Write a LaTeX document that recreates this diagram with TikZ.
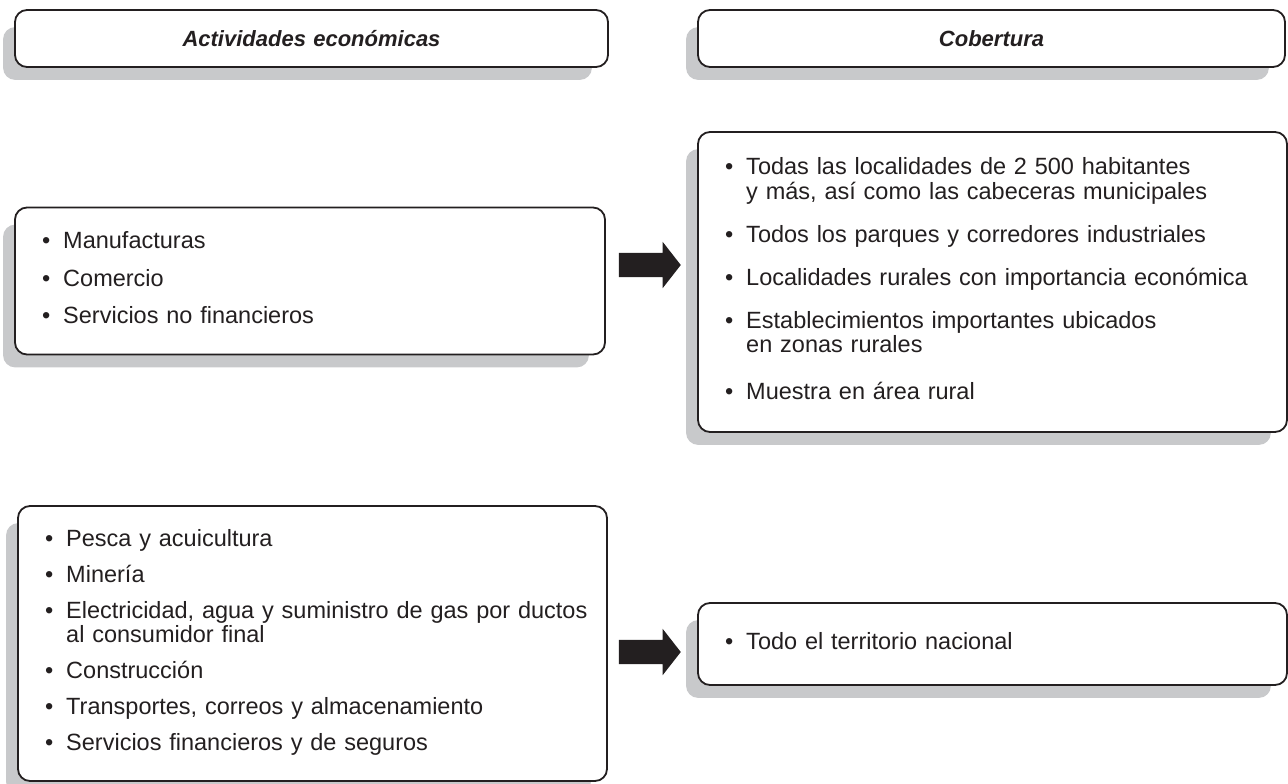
\documentclass[tikz,border=0pt]{standalone}
\usepackage{fontspec}
\setmainfont{Liberation Sans}
\usetikzlibrary{shapes.arrows,backgrounds}
\definecolor{inkgray}{HTML}{231F20}
\definecolor{shadegray}{HTML}{C8C9CB}
\newcommand{\bitem}[1]{\textbullet & #1}
\newcommand{\blist}[1]{\begin{tabular}{@{}l@{\hspace{13pt}}l@{}}#1\end{tabular}}

\begin{document}
\begin{tikzpicture}[x=1pt,y=-1pt,
    panel/.style={draw=inkgray, line width=1.8pt, fill=white, rounded corners=12pt,
      inner xsep=27pt, align=left, text=inkgray,
      font=\fontsize{23.5}{23}\selectfont},
    headpanel/.style={panel, align=center, font=\fontsize{22}{24}\selectfont\bfseries\itshape},
    blockarrow/.style={single arrow, fill=inkgray, draw=none, inner xsep=0pt, inner ysep=12pt,
      minimum height=62pt, minimum width=46pt, single arrow head extend=11pt,
      single arrow tip angle=104, single arrow head indent=0pt}]
    \useasboundingbox (0,0) rectangle (1288,784);
    % titles
    \node[headpanel, minimum width=593pt, minimum height=57pt, text width=539pt] (hdact) at (311.5,38.5) {Actividades económicas};
    \node[headpanel, minimum width=587pt, minimum height=57pt, text width=533pt] (hdcob) at (991.5,38.5) {Cobertura};
    % first group
    \node[panel, minimum width=590pt, minimum height=147pt, text width=536pt] (manuf) at (310,281)
      {\blist{\bitem{Manufacturas}\\[14pt] \bitem{Comercio}\\[14pt] \bitem{Servicios no financieros}}};
    \node[panel, minimum width=589pt, minimum height=300pt, text width=535pt] (cobloc) at (992.5,282)
      {\blist{\bitem{Todas las localidades de 2~500 habitantes}\\ & y más, así como las cabeceras municipales\\[19pt]
        \bitem{Todos los parques y corredores industriales}\\[19pt]
        \bitem{Localidades rurales con importancia económica}\\[19pt]
        \bitem{Establecimientos importantes ubicados}\\ & en zonas rurales\\[23pt]
        \bitem{Muestra en área rural}}};
    % second group
    \node[panel, minimum width=589pt, minimum height=275pt, text width=535pt] (resto) at (312.5,643.5)
      {\blist{\bitem{Pesca y acuicultura}\\[12pt] \bitem{Minería}\\[12pt]
        \bitem{Electricidad, agua y suministro de gas por ductos}\\ & al consumidor final\\[12pt]
        \bitem{Construcción}\\[12pt] \bitem{Transportes, correos y almacenamiento}\\[12pt]
        \bitem{Servicios financieros y de seguros}}};
    \node[panel, minimum width=589pt, minimum height=82pt, text width=535pt] (cobnac) at (992.5,644)
      {\blist{\bitem{Todo el territorio nacional}}};
    % arrows
    \node[blockarrow] (arr1) at (645,265) {};
    \node[blockarrow] (arr2) at (645,652) {};
    % shadows
    \begin{scope}[on background layer]
      \foreach \n in {hdact,hdcob,manuf,cobloc,resto,cobnac}
        \fill[shadegray, rounded corners=12pt] ([xshift=-11pt,yshift=-18pt]\n.north west) rectangle ([xshift=-17pt,yshift=-12pt]\n.south east);
    \end{scope}
\end{tikzpicture}
\end{document}
